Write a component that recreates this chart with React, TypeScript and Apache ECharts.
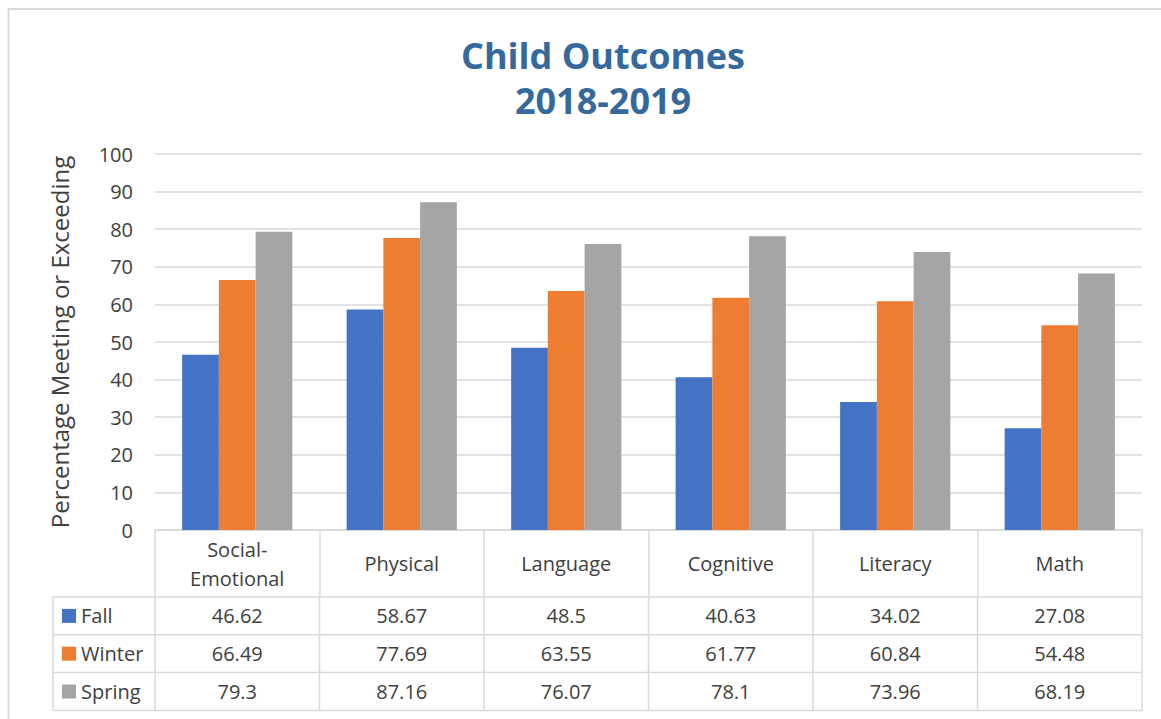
import React, { useEffect, useRef } from "react";
import * as echarts from "echarts";

const categories = ["Social-\nEmotional", "Physical", "Language", "Cognitive", "Literacy", "Math"];
const seriesNames = ["Fall", "Winter", "Spring"];
const fallValues = [46.62, 58.67, 48.5, 40.63, 34.02, 27.08];
const winterValues = [66.49, 77.69, 63.55, 61.77, 60.84, 54.48];
const springValues = [79.3, 87.16, 76.07, 78.1, 73.96, 68.19];
const colors = ["#4472C4", "#ED7D31", "#A5A5A5"];

const W = 1161;
const H = 719;
const GRID_LEFT = 155;
const GRID_RIGHT = 1142;
const GRID_TOP = 154;
const GRID_BOTTOM = 530;
const HEADER_BOTTOM = 597;
const ROW_H = 37.8;
const TABLE_LEFT = 53;
const LINE_COLOR = "#d9d9d9";
const TEXT_COLOR = "#404040";
const FONT = "'Open Sans', 'Noto Sans', sans-serif";

export default function App() {
  const ref = useRef<HTMLDivElement>(null);
  useEffect(() => {
    document.body.style.margin = "0";
    const chart = echarts.init(ref.current!, null, { renderer: "svg" });
    const allValues = [fallValues, winterValues, springValues];
    const colW = (GRID_RIGHT - GRID_LEFT) / categories.length;
    const graphics: any[] = [];
    // outer frame
    graphics.push({
      type: "rect",
      shape: { x: 8.5, y: 9, width: W + 10, height: H + 10 },
      style: { fill: "none", stroke: LINE_COLOR, lineWidth: 2 },
      silent: true,
    });
    // horizontal table lines
    for (let r = 0; r <= 3; r++) {
      const y = HEADER_BOTTOM + r * ROW_H;
      graphics.push({
        type: "line",
        shape: { x1: TABLE_LEFT, y1: y, x2: GRID_RIGHT, y2: y },
        style: { stroke: LINE_COLOR, lineWidth: 1.5 },
        silent: true,
      });
    }
    // vertical table lines
    const vx = [TABLE_LEFT];
    for (let c = 0; c <= categories.length; c++) vx.push(GRID_LEFT + c * colW);
    vx.forEach((x) => {
      graphics.push({
        type: "line",
        shape: { x1: x, y1: HEADER_BOTTOM, x2: x, y2: HEADER_BOTTOM + 3 * ROW_H },
        style: { stroke: LINE_COLOR, lineWidth: 1.5 },
        silent: true,
      });
    });
    // legend keys and values
    seriesNames.forEach((name, r) => {
      const cy = HEADER_BOTTOM + (r + 0.5) * ROW_H;
      graphics.push({
        type: "rect",
        shape: { x: 62, y: cy - 7, width: 14, height: 14 },
        style: { fill: colors[r] },
        silent: true,
      });
      graphics.push({
        type: "text",
        x: 81,
        y: cy,
        style: {
          text: name,
          fill: TEXT_COLOR,
          font: `20px ${FONT}`,
          verticalAlign: "middle",
          align: "left",
        },
        silent: true,
      });
      allValues[r].forEach((v, c) => {
        graphics.push({
          type: "text",
          x: GRID_LEFT + (c + 0.5) * colW,
          y: cy,
          style: {
            text: String(v),
            fill: TEXT_COLOR,
            font: `20px ${FONT}`,
            verticalAlign: "middle",
            align: "center",
          },
          silent: true,
        });
      });
    });

    chart.setOption({
      animation: false,
      title: {
        text: "Child Outcomes\n2018-2019",
        left: 598,
        top: 28,
        textAlign: "center",
        textStyle: {
          fontFamily: FONT,
          fontWeight: "bold",
          fontSize: 36,
          lineHeight: 45,
          color: "#35689B",
        },
      },
      grid: {
        left: GRID_LEFT,
        right: W - GRID_RIGHT,
        top: GRID_TOP,
        bottom: H - GRID_BOTTOM,
        containLabel: false,
      },
      xAxis: {
        type: "category",
        data: categories,
        axisLine: { show: true, lineStyle: { color: LINE_COLOR, width: 1.5 } },
        axisTick: {
          show: true,
          length: HEADER_BOTTOM - GRID_BOTTOM,
          lineStyle: { color: LINE_COLOR, width: 1.5 },
        },
        axisLabel: {
          margin: (HEADER_BOTTOM - GRID_BOTTOM) / 2,
          verticalAlign: "middle",
          lineHeight: 29,
          fontSize: 20,
          fontFamily: FONT,
          color: TEXT_COLOR,
          interval: 0,
        },
      },
      yAxis: {
        type: "value",
        min: 0,
        max: 100,
        interval: 10,
        name: "Percentage Meeting or Exceeding",
        nameLocation: "middle",
        nameRotate: 90,
        nameGap: 84,
        nameTextStyle: { fontSize: 24, fontFamily: FONT, color: TEXT_COLOR },
        axisLine: { show: false },
        axisTick: { show: false },
        axisLabel: { fontSize: 20, fontFamily: FONT, color: TEXT_COLOR, margin: 22 },
        splitLine: { lineStyle: { color: LINE_COLOR, width: 1.5 } },
      },
      series: allValues.map((vals, i) => ({
        type: "bar",
        name: seriesNames[i],
        data: vals,
        itemStyle: { color: colors[i] },
        barGap: "0%",
        barCategoryGap: "33%",
      })),
      graphic: graphics,
    });
    return () => chart.dispose();
  }, []);
  return <div ref={ref} style={{ width: W, height: H, background: "#fff" }} />;
}
